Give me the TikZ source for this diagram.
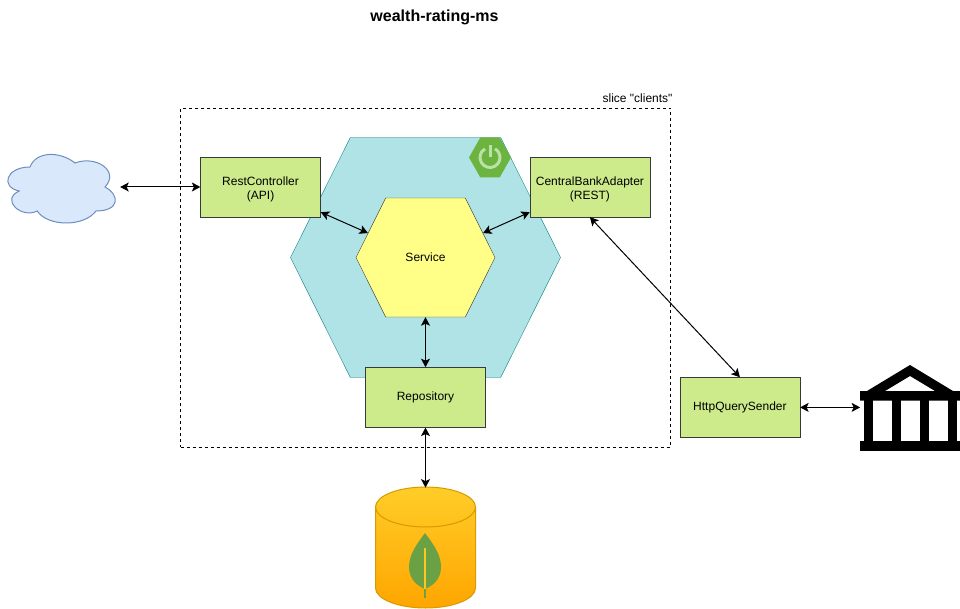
\documentclass[tikz,border=0pt]{standalone}
\usepackage{fontspec}
\setmainfont{Liberation Sans}
\newfontfamily\slicefont{Liberation Sans}
\usepackage{xcolor}
\usepackage{tikz}
\usetikzlibrary{arrows.meta,positioning,shapes.geometric,shapes.symbols}

\definecolor{boxfill}{HTML}{CDEB8B}
\definecolor{boxline}{HTML}{36393D}
\definecolor{corefill}{HTML}{B0E3E6}
\definecolor{coreline}{HTML}{0E8088}
\definecolor{servfill}{HTML}{FFFF88}
\definecolor{webfill}{HTML}{DAE8FC}
\definecolor{webline}{HTML}{6C8EBF}
\definecolor{dbtop}{HTML}{FFCD28}
\definecolor{dbbottom}{HTML}{FFA500}
\definecolor{dbline}{HTML}{D79B00}
\definecolor{leafgreen}{HTML}{6BA145}
\definecolor{springgreen}{HTML}{6DB33F}
\definecolor{springlight}{HTML}{B9E2A6}

\begin{document}
\begin{tikzpicture}[
    x=1pt, y=-1pt,
    node distance=36pt,
    block/.style={draw=boxline, fill=boxfill, align=center, minimum width=120pt, minimum height=60pt, inner sep=0pt, font=\fontsize{12}{14}\selectfont},
    twoline/.style={block, text height=27pt},
    hexa/.style={signal, signal to=east and west, signal pointer angle=127, inner sep=0pt},
    arrow/.style={{Stealth[length=8.5pt,width=9pt,inset=2pt]}-{Stealth[length=8.5pt,width=9pt,inset=2pt]}, line width=1pt}
]
\useasboundingbox (0,0) rectangle (960,609);

\node[font=\bfseries\fontsize{16}{18}\selectfont] (title) at (434.5,17.5) {wealth-rating-ms};

\node[draw, dashed, minimum width=490pt, minimum height=339pt, inner sep=0pt] (slice) at (425.5,277.5) {};
\node[font=\slicefont\fontsize{12}{14}\selectfont, anchor=south east, inner sep=0pt, yshift=5pt, xshift=2pt] (slicename) at (slice.north east) {slice "clients"};

\node[hexa, draw=coreline, fill=corefill, minimum width=270pt, minimum height=240pt] (core) at (425.5,257.5) {};
\node[hexa, signal pointer angle=121, fill=springgreen, minimum width=42pt, minimum height=40pt] (spring) at (490,157.5) {};
\draw[springlight, line width=3pt] (spring.center) ++(120:10pt) arc[start angle=120, end angle=420, radius=10pt];
\draw[springlight, line width=3pt] (spring.center) -- ++(0,-12);
\node[hexa, draw=boxline, fill=servfill, minimum width=139pt, minimum height=119pt, font=\fontsize{12}{14}\selectfont] (service) at (core) {Service};

\node[twoline, left=35pt of service, yshift=70.5pt] (rest) {RestController\\(API)};
\node[twoline, right=34.5pt of service, yshift=70.5pt] (central) {CentralBankAdapter\\(REST)};
\node[block, below=50pt of service] (repo) {Repository};
\node[block, below=160pt of central, xshift=150pt] (query) {HttpQuerySender};

% cloud
\node[minimum width=120pt, minimum height=80pt, inner sep=0pt] (web) at (60,187) {};
\draw[draw=webline, fill=webfill, line width=1pt]
    (30,167) .. controls (6,167) and (0,187) .. (19.2,191)
    .. controls (0,199.8) and (21.6,219) .. (37.2,211)
    .. controls (48,227) and (84,227) .. (96,211)
    .. controls (120,211) and (120,195) .. (105,187)
    .. controls (120,171) and (96,155) .. (75,163)
    .. controls (60,151) and (36,151) .. (30,167) -- cycle;

% bank
\node[minimum width=100pt, minimum height=86pt, inner sep=0pt, right=60pt of query] (bank) {};
\fill[even odd rule] (860,391) rectangle (960,400.5) (867,391) -- (910,365) -- (953,391) -- cycle (885,391) -- (910,376) -- (935,391) -- cycle;
\fill (860,441) rectangle (960,451);
\foreach \colx in {863.5,891.5,919.5,947.5}
    \fill (\colx,400) rectangle ++(9.5,41.5);

% database
\node[minimum width=100pt, minimum height=120pt, inner sep=0pt, below=60pt of repo] (mongo) {};
\shade[draw=dbline, line width=1pt, top color=dbtop, bottom color=dbbottom]
    (375.5,507) arc[start angle=180, end angle=0, x radius=50pt, y radius=20pt]
    -- (475.5,588) arc[start angle=0, end angle=-180, x radius=50pt, y radius=20pt] -- cycle;
\draw[dbline, line width=1pt] (375.5,507) arc[start angle=180, end angle=360, x radius=50pt, y radius=20pt];
\fill[leafgreen] (425,533) .. controls (416,545) and (409,555) .. (409,567)
    .. controls (409,580) and (418,586) .. (425,589)
    .. controls (432,586) and (441,580) .. (441,567)
    .. controls (441,555) and (434,545) .. (425,533) -- cycle;
\draw[dbtop!80!dbbottom, line width=1.5pt] (425,548) -- (425,589);
\draw[leafgreen, line width=2.5pt] (425,589) -- (425,598);

\draw[arrow] (web.east) -- (rest.west);
\draw[arrow] ([yshift=5pt]rest.south east) -- (service.157);
\draw[arrow] (service.23) -- ([yshift=5pt]central.south west);
\draw[arrow] (service.south) -- (repo.north);
\draw[arrow] (repo.south) -- (mongo.north);
\draw[arrow] (central.south) -- (query.north);
\draw[arrow] (query.east) -- (bank.west);
\end{tikzpicture}
\end{document}
